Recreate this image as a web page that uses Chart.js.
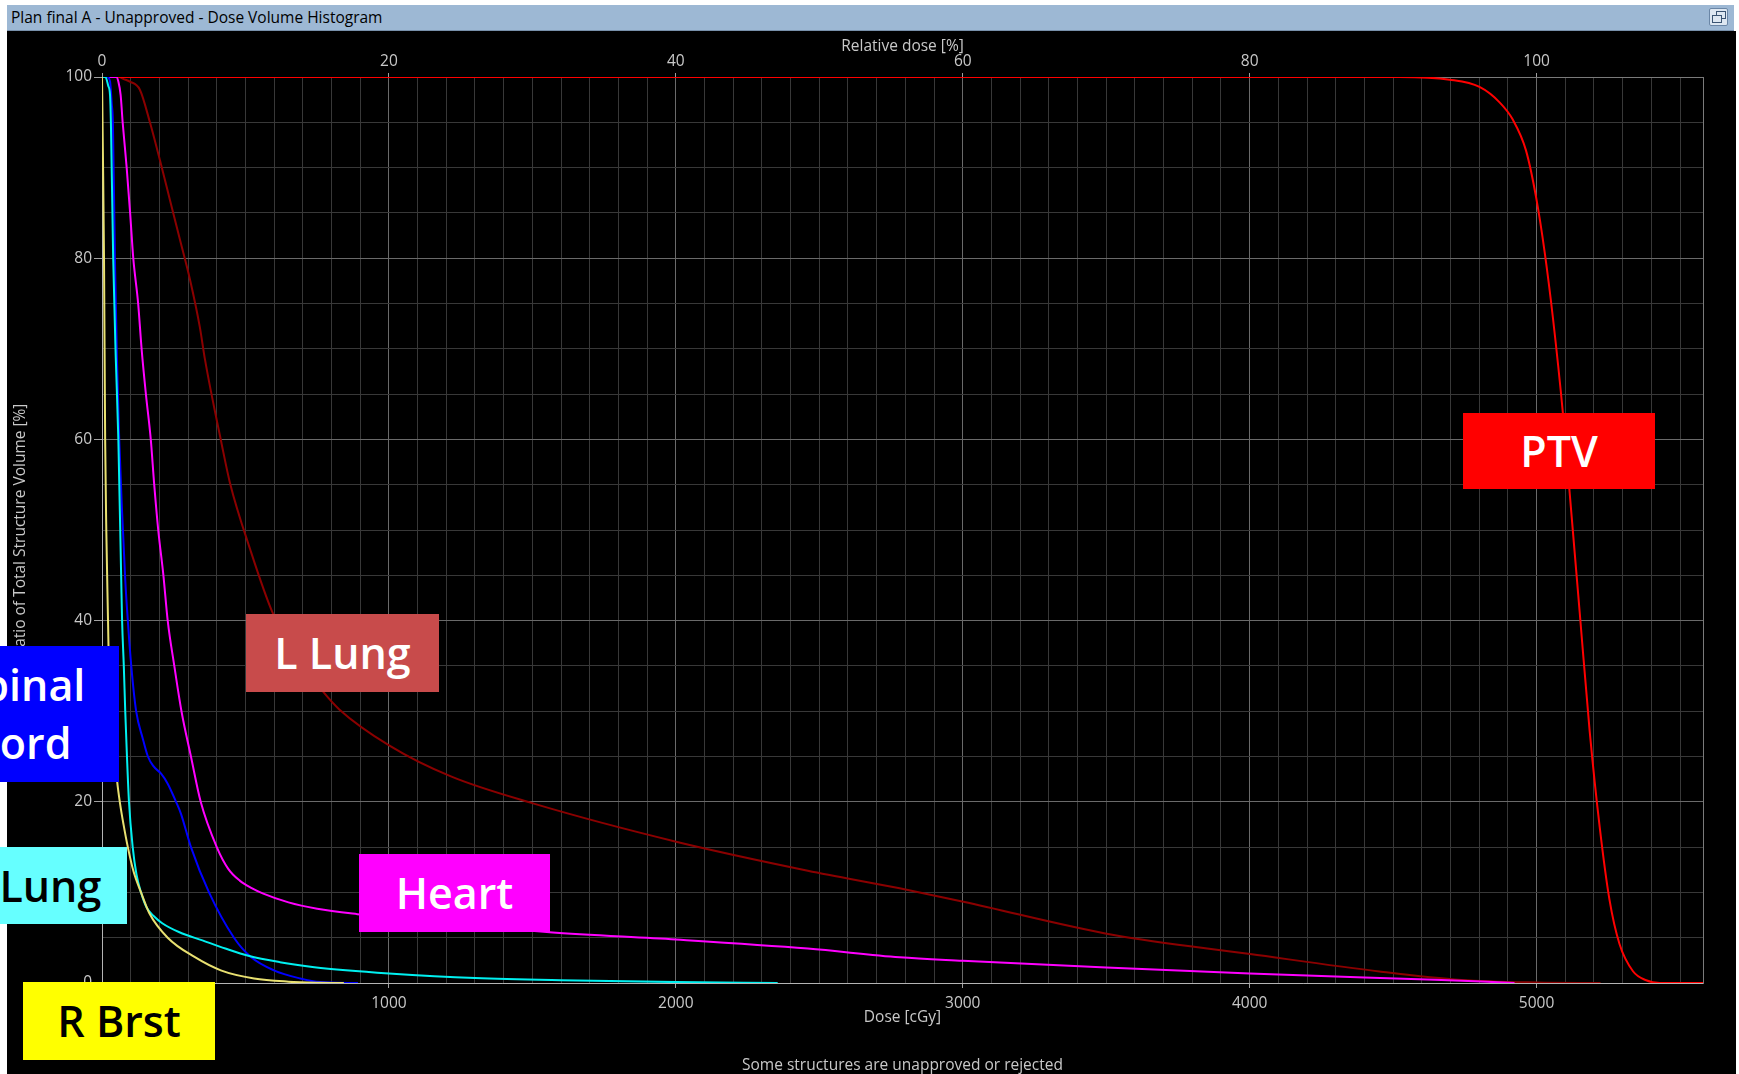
<!DOCTYPE html>
<html>
<head>
<meta charset="utf-8">
<title>Dose Volume Histogram</title>
<script src="https://cdn.jsdelivr.net/npm/chart.js@4.4.0/dist/chart.umd.min.js"></script>
<style>
  html, body { margin: 0; padding: 0; width: 1739px; height: 1074px; overflow: hidden; background: #fff; font-family: 'Open Sans', sans-serif; }
  #titlebar { position: absolute; left: 7px; top: 5px; width: 1727px; height: 26px; background: #9db8d4; border-bottom: 1px solid #7890aa; box-sizing: border-box; }
  #titlebar span { position: absolute; left: 4px; top: 1px; font-size: 15.5px; color: #000; }
  #restore { position: absolute; left: 1702px; top: 3px; width: 17px; height: 16px; border: 1px solid #6a86a6; background: #dde7f1; border-radius: 2px; }
  #restore .a { position: absolute; left: 6px; top: 2px; width: 8px; height: 6px; border: 1px solid #3b5573; }
  #restore .b { position: absolute; left: 2px; top: 6px; width: 8px; height: 6px; border: 1px solid #3b5573; background: #dde7f1; }
  #panel { position: absolute; left: 7px; top: 31px; width: 1729px; height: 1043px; background: #000; }
  #dvh { position: absolute; left: 0; top: 0; }
  #footer { position: absolute; left: 102px; width: 1601px; top: 1053px; text-align: center; font-size: 15.5px; color: #c8c8c8; }
  .tag { position: absolute; display: flex; align-items: center; justify-content: center; text-align: center; font-weight: 600; font-size: 43px; line-height: 58px; white-space: nowrap; }
</style>
</head>
<body>
<div id="titlebar"><span>Plan final A - Unapproved - Dose Volume Histogram</span><div id="restore"><div class="a"></div><div class="b"></div></div></div>
<div id="panel"><canvas id="dvh" width="1727" height="1040"></canvas></div>
<div id="footer">Some structures are unapproved or rejected</div>

<div class="tag" style="left:1463px; top:413px; width:192px; height:76px; background:#ff0000; color:#fff;">PTV</div>
<div class="tag" style="left:246px; top:614px; width:193px; height:78px; background:#c84b4b; color:#fff;">L Lung</div>
<div class="tag" style="left:-75px; top:646px; width:194px; height:136px; background:#0000ff; color:#fff;">Spinal<br>Cord</div>
<div class="tag" style="left:-65px; top:847px; width:192px; height:77px; background:#66ffff; color:#000;">R Lung</div>
<div class="tag" style="left:359px; top:854px; width:191px; height:78px; background:#ff00ff; color:#fff;">Heart</div>
<div class="tag" style="left:23px; top:982px; width:192px; height:78px; background:#ffff00; color:#000;">R Brst</div>

<script>
// Dose en cGy, volume en % du volume total de chaque structure
const doseMax = 5580;
const prescription = 5000; // 100 % de dose relative

const ptvDose = [0, 4000, 4523, 4697, 4801, 4871, 4917, 4963, 4999, 5028, 5057, 5092, 5115, 5150, 5185, 5220, 5254, 5289, 5336, 5382, 5429, 5580];
const ptvVol  = [100, 100, 100, 99.7, 98.9, 97.2, 95.3, 91.9, 86.6, 80.7, 73.4, 62.8, 54.2, 41, 27.8, 17.2, 9.2, 4.3, 1.3, 0.3, 0, 0];

const lLungDose = [0, 60, 74, 97, 132, 167, 202, 237, 272, 307, 341, 359, 417, 446, 516, 593, 680, 772, 827, 1002, 1216, 1505, 2001, 2460, 2780, 3002, 3526, 4002, 4458, 4738, 5000, 5223];
const lLungVol  = [100, 100, 99.8, 99.5, 98.6, 95, 90.8, 86.4, 82, 77.6, 72.4, 68.8, 59.5, 55.2, 47.9, 41, 36, 32.1, 30.2, 26.2, 22.8, 19.8, 15.6, 12.4, 10.45, 8.97, 5.3, 3.2, 1.25, 0.33, 0.05, 0];

const heartDose = [0, 50, 57, 65, 72, 86, 98, 109, 126, 138, 153, 170, 182, 196, 214, 229, 252, 277, 310, 344, 400, 440, 480, 520, 560, 650, 750, 890, 1200, 1560, 2000, 2460, 2780, 3000, 3500, 4000, 4400, 4645, 4923];
const heartVol  = [100, 100, 99.5, 98, 95, 90, 85, 80, 75, 70, 65, 60, 55, 50, 45, 40, 35, 30, 25, 20, 15, 12.6, 11.3, 10.5, 9.9, 8.9, 8.2, 7.6, 6.6, 5.6, 4.8, 3.8, 2.84, 2.46, 1.7, 1.05, 0.6, 0.37, 0];

const cordDose = [0, 18, 28, 34, 38, 45, 52, 60, 70, 81, 90, 102, 119, 142, 160, 180, 206, 229, 258, 275, 310, 373, 460, 518, 599, 691, 760, 892];
const cordVol  = [100, 100, 99.5, 97, 95, 80, 69, 60, 52, 44.5, 40, 35, 30, 27, 25, 23.9, 23.1, 22, 20, 18.7, 15, 10, 5, 2.9, 1.4, 0.5, 0.1, 0];

const rLungDose = [0, 12, 22, 28, 31, 39, 48, 57, 67, 70, 76, 81, 87, 94, 107, 120, 136, 156, 180, 210, 270, 350, 430, 510, 620, 740, 850, 1000, 1300, 1600, 2000, 2355];
const rLungVol  = [100, 100, 99, 98, 95, 80, 69, 60, 44.5, 40, 35, 30, 25, 20, 15, 12, 10, 8.3, 7.4, 6.6, 5.6, 4.7, 3.8, 3.0, 2.3, 1.75, 1.4, 1.05, 0.55, 0.3, 0.1, 0];

const rBrstDose = [0, 3, 7, 11, 15, 21, 24, 32, 45, 53, 62, 75, 90, 110, 136, 165, 229, 321, 414, 530, 650, 760, 843];
const rBrstVol  = [100, 92, 80, 60, 50, 40, 35, 30, 25, 22.2, 20, 17.5, 15, 12.3, 10, 7.7, 5, 2.9, 1.4, 0.5, 0.15, 0.03, 0];

// Graduations
const doseLabels = [1000, 2000, 3000, 4000, 5000];
const relLabels = [0, 20, 40, 60, 80, 100];
const volLabels = [0, 20, 40, 60, 80, 100];

const minorGrid = '#383838';
const majorGrid = '#6a6a6a';
const edgeGrid = '#7a7a7a';
const axisLine = '#b4b4b4';

function toPoints(doses, vols) {
  return doses.map((d, i) => ({x: d, y: vols[i]}));
}

function makeSet(label, doses, vols, color) {
  return {
    label: label,
    data: toPoints(doses, vols),
    borderColor: color,
    borderWidth: 2,
    pointRadius: 0,
    fill: false,
    cubicInterpolationMode: 'monotone'
  };
}

Chart.defaults.font.family = "'Open Sans', sans-serif";
Chart.defaults.font.size = 15.5;
Chart.defaults.color = '#c8c8c8';

// le premier dataset est dessiné au-dessus
new Chart(document.getElementById('dvh'), {
  type: 'line',
  data: {
    datasets: [
      makeSet('R Brst', rBrstDose, rBrstVol, '#e8e070'),
      makeSet('R Lung', rLungDose, rLungVol, '#00f0f0'),
      makeSet('Spinal Cord', cordDose, cordVol, '#0000ff'),
      makeSet('Heart', heartDose, heartVol, '#ff00ff'),
      makeSet('PTV', ptvDose, ptvVol, '#ff0000'),
      makeSet('L Lung', lLungDose, lLungVol, '#8b0000')
    ]
  },
  options: {
    responsive: false,
    animation: false,
    layout: { padding: { left: 0, top: 0, right: 31, bottom: 43 } },
    plugins: {
      legend: { display: false },
      tooltip: { enabled: false }
    },
    scales: {
      x: {
        type: 'linear',
        position: 'bottom',
        min: 0,
        max: doseMax,
        ticks: {
          stepSize: 100,
          autoSkip: false,
          maxRotation: 0,
          minRotation: 0,
          includeBounds: false,
          padding: 6,
          callback: v => doseLabels.includes(v) ? String(v) : ''
        },
        grid: {
          color: ctx => (ctx.tick && ctx.tick.value % 1000 === 0) ? majorGrid : minorGrid,
          tickLength: 5,
          tickColor: ctx => (ctx.tick && doseLabels.includes(ctx.tick.value)) ? '#a0a0a0' : 'rgba(0,0,0,0)'
        },
        border: { color: axisLine },
        title: { display: true, text: 'Dose [cGy]', padding: { top: 0, bottom: 1 } },
        afterFit: s => { s.height = 45; }
      },
      x2: {
        type: 'linear',
        position: 'top',
        min: 0,
        max: doseMax / prescription * 100,
        ticks: {
          stepSize: 20,
          autoSkip: false,
          maxRotation: 0,
          minRotation: 0,
          includeBounds: false,
          padding: 2,
          callback: v => relLabels.includes(v) ? String(v) : ''
        },
        grid: {
          drawOnChartArea: false,
          tickLength: 4,
          tickColor: ctx => (ctx.tick && relLabels.includes(ctx.tick.value)) ? '#a0a0a0' : 'rgba(0,0,0,0)'
        },
        border: { display: false },
        title: { display: true, text: 'Relative dose [%]', padding: { top: 6, bottom: 0 } },
        afterFit: s => { s.height = 46; }
      },
      y: {
        type: 'linear',
        position: 'left',
        min: 0,
        max: 100,
        ticks: {
          stepSize: 5,
          autoSkip: false,
          padding: 2,
          callback: v => volLabels.includes(v) ? String(v) : ''
        },
        grid: {
          color: ctx => {
            if (!ctx.tick) return minorGrid;
            if (ctx.tick.value === 100) return edgeGrid;
            return ctx.tick.value % 20 === 0 ? majorGrid : minorGrid;
          },
          tickLength: 8,
          tickColor: ctx => (ctx.tick && volLabels.includes(ctx.tick.value)) ? '#a0a0a0' : 'rgba(0,0,0,0)'
        },
        border: { color: axisLine },
        title: { display: true, text: 'Ratio of Total Structure Volume [%]', padding: { top: 4, bottom: 0 } },
        afterFit: s => { s.width = 95; }
      },
      y2: {
        type: 'linear',
        position: 'right',
        min: 0,
        max: 100,
        ticks: { display: false },
        grid: { drawOnChartArea: false, drawTicks: false },
        border: { display: true, color: edgeGrid },
        afterFit: s => { s.width = 0; }
      }
    }
  }
});
</script>
</body>
</html>
